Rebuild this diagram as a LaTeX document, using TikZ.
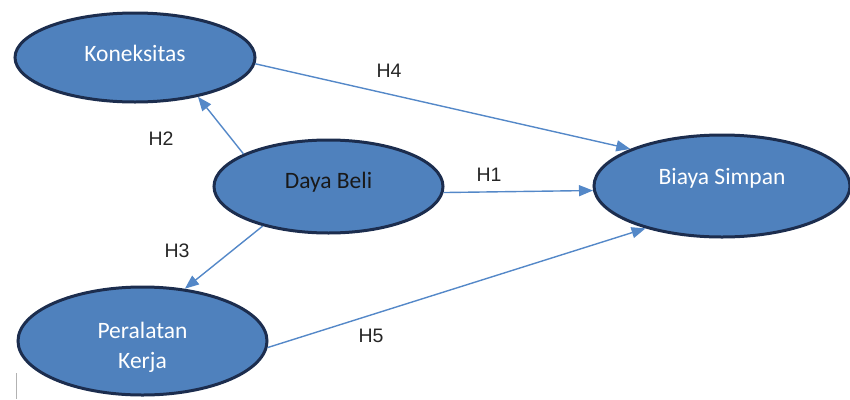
\documentclass[tikz,border=0pt]{standalone}
\usepackage{fontspec}
\setmainfont{Carlito}
\newfontfamily\hfont{Liberation Sans}
\usetikzlibrary{shapes,arrows.meta,positioning}
\definecolor{elfill}{RGB}{79,129,189}
\definecolor{elline}{RGB}{28,45,78}
\definecolor{arrline}{RGB}{84,136,200}
\tikzstyle{variabel} = [draw=elline, fill=elfill, line width=3pt, ellipse, inner sep=0pt, text=white, align=center, font=\fontsize{23.5}{30}\selectfont]
\tikzstyle{panah} = [draw=arrline, line width=1.4pt, -{Triangle[length=14pt,width=11pt]}]
\tikzstyle{hipotesis} = [font=\hfont\fontsize{19.5}{21}\selectfont, text=black!85]

\begin{document}
\begin{tikzpicture}[x=1pt,y=-1pt]
					\useasboundingbox (0,0) rectangle (850,399);
					% variabel
					\node [variabel, minimum width=240pt, minimum height=89pt, text depth=9pt] (kon) at (135,57.5) {Koneksitas};
					\node [variabel, minimum width=229pt, minimum height=93pt, text depth=12pt, text=black!90] (dbl) at (328.5,186.5) {Daya Beli};
					\node [variabel, minimum width=256pt, minimum height=102pt, text depth=19pt] (bia) at (722,186) {Biaya Simpan};
					\node [variabel, minimum width=249pt, minimum height=108pt] (pkr) at (142.5,341) {\rule{0pt}{30pt}Peralatan\\Kerja};
					% hubungan
					\draw [panah] (kon.-3) -- (bia.158);
					\draw [panah] (dbl.-3) -- (bia.182);
					\draw [panah] (pkr.-3) -- (bia.209);
					\draw [panah] (dbl.159) -- (kon.-32);
					\draw [panah] (dbl.-149) -- (pkr.51);
					% label
					\node [hipotesis] (h4) at (389,71) {H4};
					\node [hipotesis] (h2) at (161,139) {H2};
					\node [hipotesis] (h1) at (489,175) {H1};
					\node [hipotesis] (h3) at (177,251) {H3};
					\node [hipotesis] (h5) at (371,336) {H5};
					\draw [gray!60, line width=0.8pt] (16,373) -- (16,399);
\end{tikzpicture}
\end{document}
